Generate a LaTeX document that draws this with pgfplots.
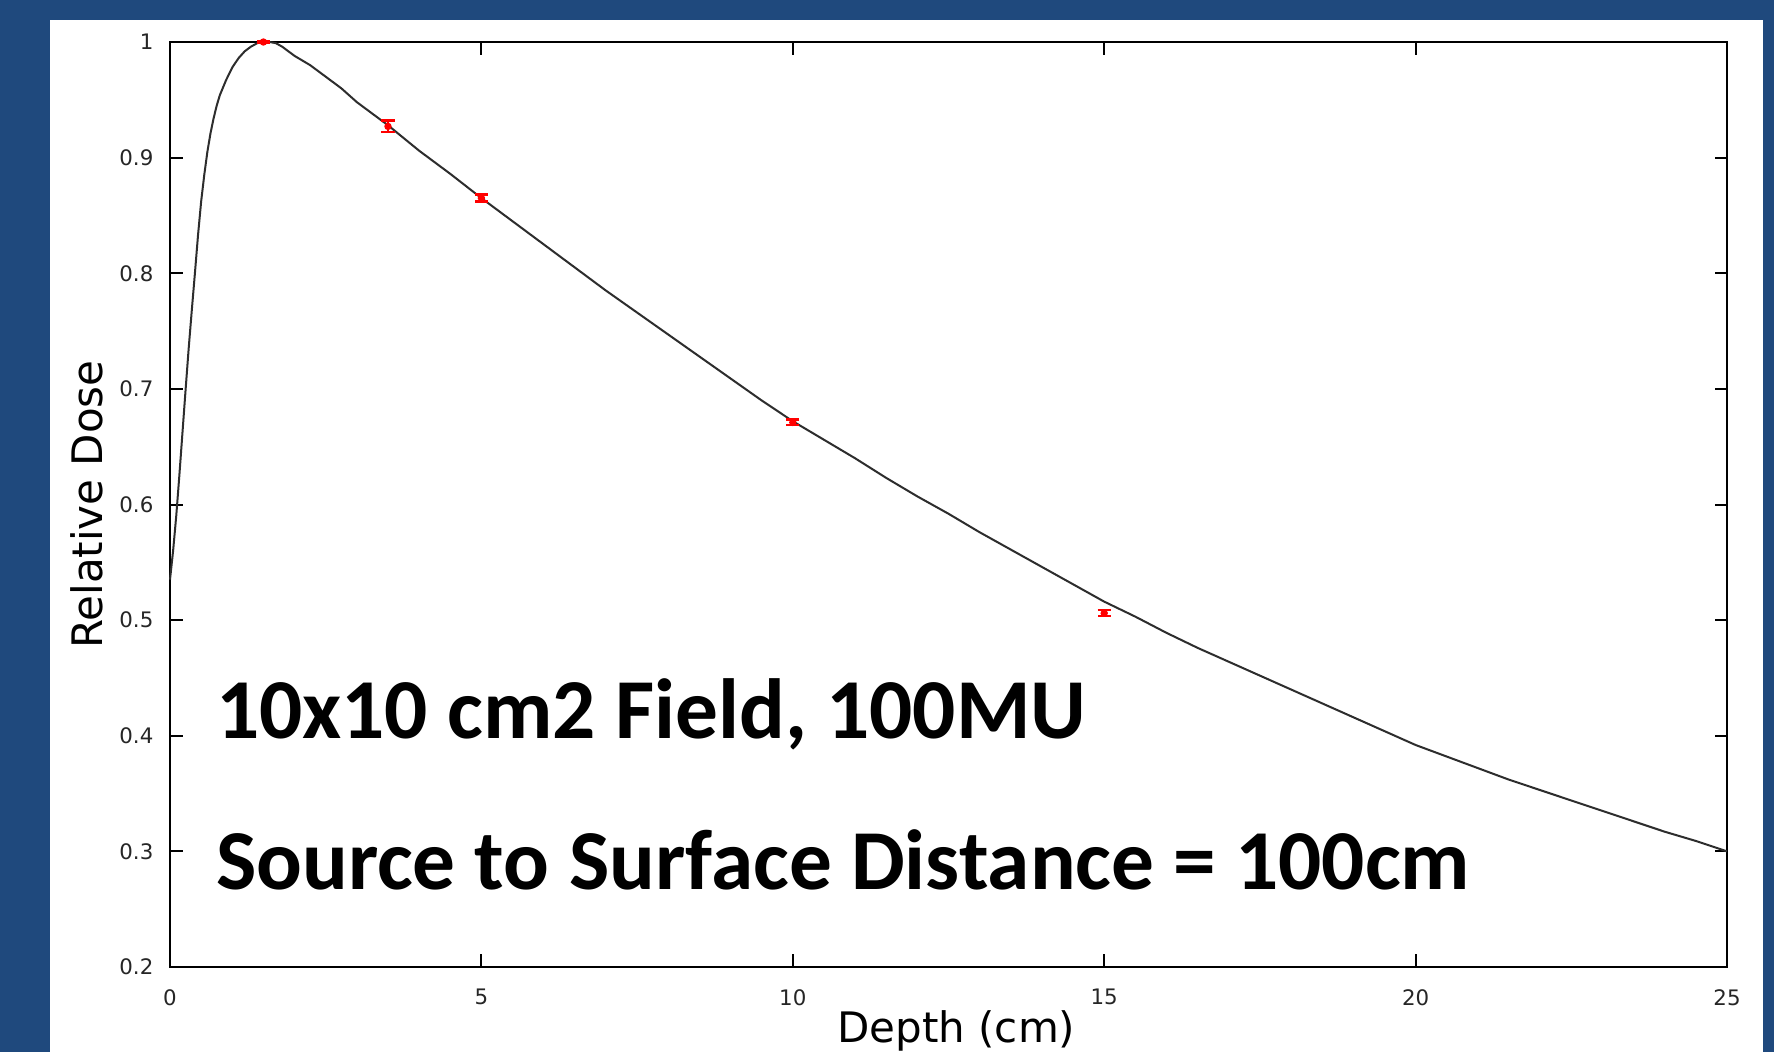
\documentclass[border=0pt]{standalone}
\usepackage{fontspec}
\setmainfont{DejaVu Sans}
\newfontfamily\carlito{Carlito}
\usepackage{pgfplots}
\pgfplotsset{compat=1.18}
\definecolor{slideblue}{RGB}{31,73,125}
\definecolor{curvegray}{RGB}{45,45,45}

\pgfplotstableread{
x y
0 0.535
0.05 0.56
0.1 0.59
0.15 0.625
0.2 0.662
0.25 0.699
0.3 0.735
0.35 0.768
0.4 0.80
0.45 0.833
0.5 0.862
0.55 0.885
0.6 0.905
0.65 0.921
0.7 0.934
0.75 0.945
0.8 0.954
0.9 0.967
1.0 0.978
1.1 0.986
1.2 0.992
1.3 0.996
1.4 0.999
1.5 1.0
1.6 1.0
1.7 0.999
1.8 0.996
2.0 0.988
2.25 0.980
2.5 0.970
2.75 0.960
3.0 0.948
3.25 0.938
3.5 0.928
3.75 0.917
4.0 0.906
4.5 0.886
5.0 0.865
5.5 0.845
6 0.825
6.5 0.805
7 0.785
7.5 0.766
8 0.747
8.5 0.728
9 0.709
9.5 0.690
10 0.672
10.5 0.656
11 0.640
11.5 0.623
12 0.607
12.5 0.592
13 0.576
13.5 0.561
14 0.546
14.5 0.531
15 0.516
15.5 0.503
16 0.489
16.5 0.476
17 0.464
17.5 0.452
18 0.440
18.5 0.428
19 0.416
19.5 0.404
20 0.392
20.5 0.382
21 0.372
21.5 0.362
22 0.353
22.5 0.344
23 0.335
23.5 0.326
24 0.317
24.5 0.309
25 0.300
}\pddcurve

\pgfplotstableread{
x y err
1.5 1.000 0.001
3.5 0.927 0.005
5 0.865 0.003
10 0.671 0.0025
15 0.506 0.0025
}\measured

\begin{document}
\begin{tikzpicture}
% slide background; 1 reference pixel = 0.3pt
\clip (0pt,0pt) rectangle (532.2pt,315.6pt);
\fill[slideblue] (0pt,0pt) rectangle (532.2pt,315.6pt);
\fill[white] (15pt,0pt) rectangle (528.9pt,309.6pt);
\begin{axis}[
    at={(51pt,25.5pt)}, anchor=south west,
    width=467.1pt, height=277.5pt, scale only axis,
    xmin=0, xmax=25, ymin=0.2, ymax=1,
    xtick={0,5,...,25}, ytick={0.2,0.3,...,1},
    tick align=inside, major tick length=3.75pt,
    axis line style={line width=0.6pt},
    tick style={black, line width=0.6pt},
    /pgf/number format/assume math mode=true,
    ticklabel style={font=\fontsize{6.4}{7.5}\selectfont, text=black!85},
    xticklabel style={inner sep=0pt, anchor=north, yshift=-6.5pt},
    yticklabel style={inner sep=0pt, anchor=east, xshift=-4.8pt},
    label style={font=\fontsize{12.6}{14}\selectfont},
    xlabel={Depth (cm)},
    ylabel={Relative Dose},
    xlabel style={at={(axis description cs:0.505,0)}, anchor=base, yshift=-22.6pt},
    ylabel style={at={(axis description cs:0,0.5)}, anchor=base, yshift=20.4pt},
    clip=false,
]
\addplot[curvegray, line width=0.6pt, no marks] table[x=x, y=y] {\pddcurve};
\addplot[red, only marks, mark=*, mark size=0.9pt,
    error bars/.cd, y dir=both, y explicit, error mark=|,
    error mark options={red, mark size=2pt, line width=0.7pt},
    error bar style={red, line width=0.7pt}]
    table[x=x, y=y, y error=err] {\measured};
\end{axis}
\node[anchor=base west, inner sep=0pt, font=\carlito\bfseries\fontsize{25.6}{30}\selectfont]
    at (64.6pt,93.9pt) {10x10 cm2 Field, 100MU};
\node[anchor=base west, inner sep=0pt, font=\carlito\bfseries\fontsize{25.6}{30}\selectfont]
    at (64.6pt,48.6pt) {Source to Surface Distance = 100cm};
\end{tikzpicture}
\end{document}
